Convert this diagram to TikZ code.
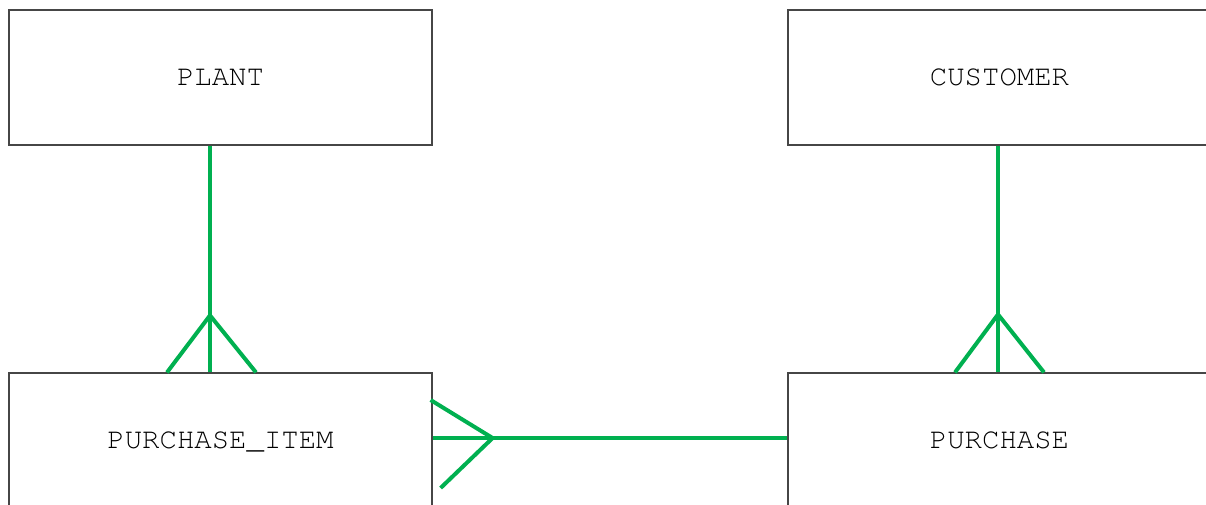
\documentclass[tikz,border=0pt]{standalone}
\usepackage{fontspec}
\setmonofont{texgyrecursor-regular.otf}
\usetikzlibrary{calc}

\definecolor{relgreen}{RGB}{0,176,80}
\definecolor{boxline}{RGB}{70,70,70}

\tikzset{every picture/.style={line width=0.75pt}}
\tikzset{
  entity/.style={draw=boxline, line width=0.9pt, minimum width=317.25pt, minimum height=101.25pt, inner sep=0pt, text height=12.4pt, text depth=0pt, font=\ttfamily\fontsize{21.75}{25}\selectfont},
  rel/.style={draw=relgreen, line width=3pt}
}

\begin{document}
\begin{tikzpicture}[x=0.75pt,y=0.75pt,yscale=-1,xscale=1]
\useasboundingbox (0,0) rectangle (1206,504);
\clip (0,0) rectangle (1206,504);

%Shape: Rectangle [PLANT]
\node [entity] (plant) at (220.5,77.5) {PLANT};
%Shape: Rectangle [CUSTOMER]
\node [entity] (customer) at (999.5,77.5) {CUSTOMER};
%Shape: Rectangle [PURCHASE_ITEM]
\node [entity] (item) at (220.5,440.5) {PURCHASE\_ITEM};
%Shape: Rectangle [PURCHASE]
\node [entity] (purchase) at (999.5,440.5) {PURCHASE};

%Straight Lines [plant - item]
\draw [rel] ($(plant.south)+(-10.5,0)$) -- ($(item.north)+(-10.5,0)$);
\draw [rel] ($(item.north)+(-53.5,0)$) -- ($(item.north)+(-10.5,-57)$) -- ($(item.north)+(35.5,0)$);
%Straight Lines [customer - purchase]
\draw [rel] ($(customer.south)+(-1.5,0)$) -- ($(purchase.north)+(-1.5,0)$);
\draw [rel] ($(purchase.north)+(-44.5,0)$) -- ($(purchase.north)+(-1.5,-58)$) -- ($(purchase.north)+(44.5,0)$);
%Straight Lines [item - purchase]
\draw [rel] ($(item.east)+(0,-2.5)$) -- ($(purchase.west)+(0,-2.5)$);
\draw [rel] ($(item.east)+(-2,-40.5)$) -- ($(item.east)+(60,-2.5)$) -- ($(item.east)+(8,47.5)$);

\end{tikzpicture}
\end{document}
